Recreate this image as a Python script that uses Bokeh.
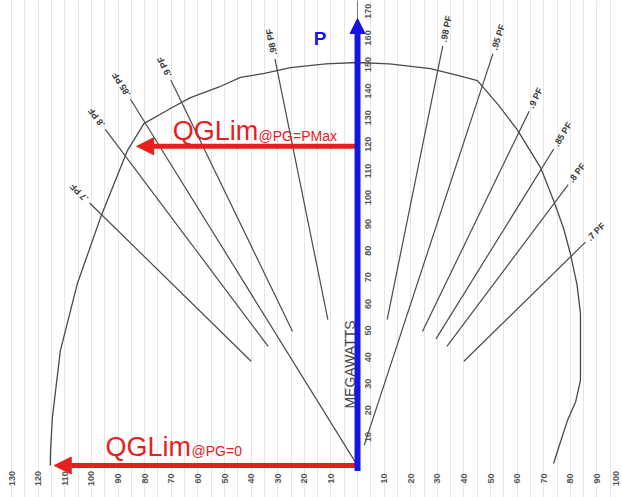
import numpy as np
from bokeh.plotting import figure
from bokeh.models import Range1d, Arrow, NormalHead, SingleIntervalTicker, Label, ColumnDataSource
from bokeh.core.properties import value
from bokeh.embed import file_html
from bokeh.resources import INLINE

# ---------------- data ----------------
# Generator capability curve: Q in MVAR (left = lagging side), P in MW
cap_q = [-115.5, -115.4, -114.7, -111.7, -105.3, -96.6, -86.5, -80.3, -70.0, -62.8,
         -52.0, -44.0, -35.0, -25.2, -12.0, 0.0, 12.0, 27.4, 38.0, 45.1, 53.0,
         60.2, 68.8, 73.7, 77.5, 80.0, 82.5, 83.8, 83.8, 82.0, 78.9, 76.0, 73.7]
cap_p = [0.0, 5.6, 18.0, 43.2, 68.4, 93.2, 118.4, 128.5, 134.4, 138.3,
         142.3, 145.9, 147.4, 149.6, 151.0, 151.5, 151.0, 149.2, 146.6, 144.7, 135.5,
         126.0, 112.0, 99.6, 89.0, 79.7, 68.0, 57.1, 32.0, 24.0, 16.9, 8.0, 0.8]

# power-factor lines (MVA radii of the drawn segments)
pf_left = [0.7, 0.8, 0.85, 0.9, 0.98]
pf_left_labels = [".7 PF", ".8 PF", ".85 PF", ".9 PF", ".98 PF"]
pf_left_r_in = [56, 56, 0, 56, 56]
pf_left_r_out = [141, 158, 162, 161, 156]

pf_right = [0.98, 0.95, 0.9, 0.85, 0.8, 0.7]
pf_right_labels = [".98 PF", ".95 PF", ".9 PF", ".85 PF", ".8 PF", ".7 PF"]
pf_right_r_in = [56, 8, 56, 56, 56, 56]
pf_right_r_out = [161, 163, 148, 140, 132, 120]

# tick labels
q_ticks_left = [10, 20, 30, 40, 50, 60, 70, 80, 90, 100, 110, 120, 130]
q_ticks_right = [10, 20, 30, 40, 50, 60, 70, 80, 90, 100]
p_ticks = [10, 20, 30, 40, 50, 60, 70, 80, 90, 100, 110, 120, 130, 140, 150, 160, 170]

# QG limits
p_max = 120
qglim_pmax = -83
p_zero = 0
qglim_p0 = -114
p_axis_top = 168

# ---------------- figure ----------------
p = figure(width=622, height=497, x_range=Range1d(-134.2, 99.6), y_range=Range1d(-12.0, 174.8),
           output_backend="svg", toolbar_location=None, min_border=0,
           x_axis_location=None, y_axis_location=None)
p.outline_line_color = None
p.background_fill_color = "white"
p.border_fill_color = "white"
p.ygrid.visible = False
p.xgrid.ticker = SingleIntervalTicker(interval=5, num_minor_ticks=0)
p.xgrid.grid_line_color = "#e6e6e6"
p.xgrid.grid_line_width = 1

line_col = "#4a4a4a"
font = value("Liberation Sans")

# capability curve
p.line(cap_q, cap_p, line_color=line_col, line_width=1.3)

# PF lines
th_l = np.arcsin(np.array(pf_left))
ri_l = np.array(pf_left_r_in, dtype=float)
ro_l = np.array(pf_left_r_out, dtype=float)
p.segment(x0=-ri_l * np.cos(th_l), y0=ri_l * np.sin(th_l),
          x1=-ro_l * np.cos(th_l), y1=ro_l * np.sin(th_l),
          line_color=line_col, line_width=1.2)
rl = ro_l + 1.5
p.text(x=list(-rl * np.cos(th_l)), y=list(rl * np.sin(th_l)), text=pf_left_labels,
       angle=list(np.pi - th_l), text_align="left", text_baseline="middle",
       text_font=font, text_font_size="9px", text_font_style="bold", text_color="#3a3a3a")

th_r = np.arcsin(np.array(pf_right))
ri_r = np.array(pf_right_r_in, dtype=float)
ro_r = np.array(pf_right_r_out, dtype=float)
p.segment(x0=ri_r * np.cos(th_r), y0=ri_r * np.sin(th_r),
          x1=ro_r * np.cos(th_r), y1=ro_r * np.sin(th_r),
          line_color=line_col, line_width=1.2)
rr = ro_r + 1.5
p.text(x=list(rr * np.cos(th_r)), y=list(rr * np.sin(th_r)), text=pf_right_labels,
       angle=list(th_r), text_align="left", text_baseline="middle",
       text_font=font, text_font_size="9px", text_font_style="bold", text_color="#3a3a3a")

# thin axis line behind the blue arrow
p.segment(x0=[0], y0=[0], x1=[0], y1=[p_axis_top + 7], line_color="#777777", line_width=1)

# Q tick labels (bottom)
qx = [-v for v in q_ticks_left] + q_ticks_right
qt = [str(v) for v in q_ticks_left] + [str(v) for v in q_ticks_right]
qoff = [0] * (len(qx) - 1) + [-8]
qsrc = ColumnDataSource(dict(x=qx, y=[0] * len(qx), t=qt, xo=qoff))
p.text(x="x", y="y", text="t", source=qsrc, angle=np.pi / 2, y_offset=13, x_offset="xo",
       text_align="center", text_baseline="middle", text_font=font,
       text_font_size="9px", text_font_style="bold", text_color="#555555")

# P tick labels (beside the P axis)
p.text(x=[0] * len(p_ticks), y=p_ticks, text=[str(v) for v in p_ticks], angle=np.pi / 2,
       x_offset=10, y_offset=-2, text_align="center", text_baseline="middle",
       text_font=font, text_font_size="9px", text_font_style="bold", text_color="#555555")

p.add_layout(Label(x=0, y=38, x_offset=-8, text="MEGAWATTS", angle=np.pi / 2,
                   text_align="center", text_baseline="middle", text_font="Liberation Sans",
                   text_font_size="14px", text_color="#444444"))

# red QGLim arrows
red = "#e6211d"
p.add_layout(Arrow(x_start=0, y_start=p_max, x_end=qglim_pmax, y_end=p_max,
                   line_color=red, line_width=5,
                   end=NormalHead(size=17, fill_color=red, line_color=red, line_width=1)))
p.add_layout(Arrow(x_start=0, y_start=p_zero, x_end=qglim_p0, y_end=p_zero,
                   line_color=red, line_width=5,
                   end=NormalHead(size=17, fill_color=red, line_color=red, line_width=1)))

# blue P arrow
blue = "#1616e0"
p.add_layout(Arrow(x_start=0, y_start=-2, x_end=0, y_end=p_axis_top,
                   line_color=blue, line_width=6,
                   end=NormalHead(size=15, fill_color=blue, line_color=blue, line_width=1)))

# texts
p.add_layout(Label(x=-16.5, y=160.5, text="P", text_font="Liberation Sans", text_font_size="19px",
                   text_font_style="bold", text_color=blue, text_baseline="alphabetic"))
p.add_layout(Label(x=-69.5, y=p_max + 5.6, text="QGLim", text_font="Liberation Sans",
                   text_font_size="27px", text_color=red, text_baseline="alphabetic"))
p.add_layout(Label(x=-37.2, y=p_max + 3.7, text="@PG=PMax", text_font="Liberation Sans",
                   text_font_size="14px", text_color=red, text_baseline="alphabetic"))
p.add_layout(Label(x=-94.7, y=p_zero + 6.8, text="QGLim", text_font="Liberation Sans",
                   text_font_size="27px", text_color=red, text_baseline="alphabetic"))
p.add_layout(Label(x=-62.4, y=p_zero + 5.3, text="@PG=0", text_font="Liberation Sans",
                   text_font_size="14px", text_color=red, text_baseline="alphabetic"))

open("out.html", "w").write(file_html(p, INLINE))
